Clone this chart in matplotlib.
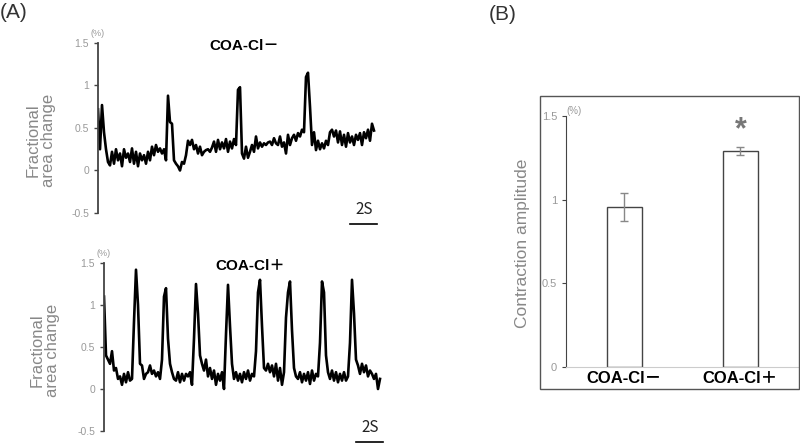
import numpy as np
import matplotlib.pyplot as plt
from matplotlib.patches import Rectangle

plt.rcParams['font.family'] = ['Liberation Sans', 'Noto Sans CJK JP', 'DejaVu Sans']

# Trace values (fractional area change, %), sampled every ~0.15 s
dt = 2 / 13.5
trace_minus = [0.72, 0.25, 0.77, 0.45, 0.25, 0.10, 0.06, 0.22, 0.08, 0.25,
               0.12, 0.20, 0.05, 0.25, 0.15, 0.20, 0.10, 0.26, 0.08, 0.22,
               0.05, 0.20, 0.12, 0.18, 0.08, 0.22, 0.12, 0.28, 0.18, 0.30,
               0.22, 0.26, 0.20, 0.25, 0.12, 0.88, 0.57, 0.55, 0.12, 0.08,
               0.05, 0.00, 0.10, 0.08, 0.18, 0.35, 0.30, 0.36, 0.25, 0.30,
               0.20, 0.28, 0.18, 0.22, 0.24, 0.25, 0.22, 0.27, 0.34, 0.22,
               0.36, 0.25, 0.33, 0.26, 0.37, 0.22, 0.34, 0.26, 0.37, 0.30,
               0.95, 0.98, 0.20, 0.14, 0.28, 0.15, 0.22, 0.30, 0.22, 0.40,
               0.26, 0.33, 0.28, 0.32, 0.30, 0.33, 0.34, 0.30, 0.38, 0.32,
               0.30, 0.40, 0.28, 0.33, 0.20, 0.42, 0.30, 0.38, 0.42, 0.35,
               0.44, 0.40, 0.48, 0.45, 1.10, 1.15, 0.75, 0.30, 0.45, 0.24,
               0.35, 0.25, 0.32, 0.26, 0.35, 0.30, 0.45, 0.48, 0.40, 0.47,
               0.33, 0.46, 0.30, 0.42, 0.28, 0.44, 0.33, 0.40, 0.30, 0.42,
               0.36, 0.44, 0.30, 0.45, 0.38, 0.48, 0.35, 0.55, 0.47]
trace_plus = [1.10, 0.40, 0.35, 0.30, 0.45, 0.22, 0.25, 0.12, 0.15, 0.05,
              0.18, 0.08, 0.20, 0.10, 0.12, 0.80, 1.42, 1.00, 0.30, 0.28,
              0.12, 0.18, 0.20, 0.28, 0.18, 0.22, 0.15, 0.20, 0.12, 0.35,
              1.10, 1.20, 0.60, 0.30, 0.20, 0.12, 0.10, 0.20, 0.08, 0.18,
              0.10, 0.18, 0.15, 0.20, 0.05, 0.60, 1.25, 0.90, 0.40, 0.30,
              0.22, 0.35, 0.15, 0.25, 0.12, 0.22, 0.05, 0.18, 0.10, 0.20,
              0.00, 0.65, 1.24, 0.75, 0.30, 0.12, 0.20, 0.10, 0.18, 0.08,
              0.20, 0.12, 0.22, 0.10, 0.18, 0.15, 0.45, 1.15, 1.30, 0.75,
              0.25, 0.22, 0.30, 0.20, 0.28, 0.15, 0.30, 0.10, 0.25, 0.05,
              0.20, 0.85, 1.15, 1.28, 0.70, 0.25, 0.15, 0.12, 0.20, 0.08,
              0.18, 0.10, 0.20, 0.06, 0.22, 0.10, 0.18, 0.15, 0.55, 1.28,
              1.15, 0.40, 0.20, 0.12, 0.22, 0.10, 0.20, 0.08, 0.18, 0.10,
              0.20, 0.10, 0.15, 0.55, 1.30, 0.90, 0.35, 0.28, 0.18, 0.30,
              0.20, 0.28, 0.15, 0.22, 0.18, 0.12, 0.18, 0.00, 0.12]

# Panel B
groups = ['COA-Cl\uff0d', 'COA-Cl\uff0b']
amplitude = [0.955, 1.29]
amp_err = [0.085, 0.022]

W, H = 800, 443
fig = plt.figure(figsize=(8, 4.43), dpi=100)

def box(l, t, r, b):
    return [l / W, 1 - b / H, (r - l) / W, (b - t) / H]

grey_lbl = '#999999'
label_font = ['Liberation Sans', 'Noto Sans CJK JP', 'DejaVu Sans']

def trace_panel(rect, values, title, title_y, ylab_xy):
    ax = fig.add_axes(rect)
    t = np.arange(len(values)) * dt
    ax.plot(t, values, color='black', lw=1.9)
    ax.set_ylim(-0.5, 1.5)
    ax.set_xlim(0, 282 / 13.5)
    for s in ['top', 'right', 'bottom']:
        ax.spines[s].set_visible(False)
    ax.spines['left'].set_color('#444444')
    ax.spines['left'].set_linewidth(1.3)
    ax.set_xticks([])
    ax.set_yticks([-0.5, 0, 0.5, 1, 1.5])
    ax.set_yticklabels(['-0.5', '0', '0.5', '1', '1.5'])
    ax.tick_params(axis='y', colors='#444444', labelcolor=grey_lbl,
                   labelsize=7.5, length=3, width=1)
    ax.text(0, 1.03, '(%)', transform=ax.transAxes, fontsize=6.5,
            color=grey_lbl, ha='center', va='bottom')
    ax.text(0.52, title_y, title, transform=ax.transAxes, fontsize=11,
            fontweight='bold', ha='center', va='center', family=label_font)
    # 2 s scale bar
    x0 = ax.get_xlim()[1] - 2.2
    ax.plot([x0, x0 + 2], [-0.63, -0.63], color='black', lw=1.2,
            clip_on=False)
    ax.text(x0 + 1, -0.56, '2S', fontsize=11, ha='center', va='bottom',
            color='#222222', family=['Noto Sans CJK JP'])
    fig.text(ylab_xy[0] / W, 1 - ylab_xy[1] / H, 'Fractional\narea change',
             rotation=90, ha='center', va='center', fontsize=12,
             color='#888888', linespacing=1.0)
    return ax

trace_panel(box(98, 43, 380, 213), trace_minus, 'COA-Cl\uff0d', 0.98, (41, 140))
trace_panel(box(104, 263, 386, 431), trace_plus, 'COA-Cl\uff0b', 0.98, (45, 350))

fig.text(0 / W, 1 - 13 / H, '(A)', fontsize=15, color='#333333',
         ha='left', va='center')
fig.text(503 / W, 1 - 15 / H, '(B)', fontsize=15, color='#333333',
         ha='center', va='center')

# Panel B frame
fig.patches.append(Rectangle((540 / W, 1 - 389 / H), 259 / W, 293 / H,
                             transform=fig.transFigure, fill=False,
                             edgecolor='#555555', lw=1.0))

axb = fig.add_axes(box(566, 116, 800, 367))
xpos = np.arange(len(groups))
axb.bar(xpos, amplitude, width=0.30, color='white', edgecolor='#444444',
        lw=1.0, zorder=2)
axb.errorbar(xpos, amplitude, yerr=amp_err, fmt='none', ecolor='#888888',
             elinewidth=1.0, capsize=3, capthick=1.0, zorder=3)
axb.set_xlim(-0.504, 1.513)
axb.set_ylim(0, 1.5)
axb.spines['top'].set_visible(False)
axb.spines['right'].set_visible(False)
axb.spines['left'].set_color('#444444')
axb.spines['bottom'].set_color('#cccccc')
axb.set_yticks([0, 0.5, 1, 1.5])
axb.set_yticklabels(['0', '0.5', '1', '1.5'])
axb.tick_params(axis='y', colors='#444444', labelcolor=grey_lbl,
                labelsize=8, length=3)
axb.set_xticks(xpos)
axb.set_xticklabels(groups, fontsize=12, fontweight='bold', family=label_font)
axb.tick_params(axis='x', length=0, pad=3)
axb.text(0, 1.0, '(%)', transform=axb.transAxes, fontsize=7,
         color=grey_lbl, ha='left', va='bottom')
axb.text(1, amplitude[1] + amp_err[1] + 0.1, '*', fontsize=22,
         color='#777777', ha='center', va='center', fontweight='bold')
fig.text(522 / W, 1 - 243 / H, 'Contraction amplitude', rotation=90,
         ha='center', va='center', fontsize=12.5, color='#888888')

fig.savefig('out.png', dpi=100)
